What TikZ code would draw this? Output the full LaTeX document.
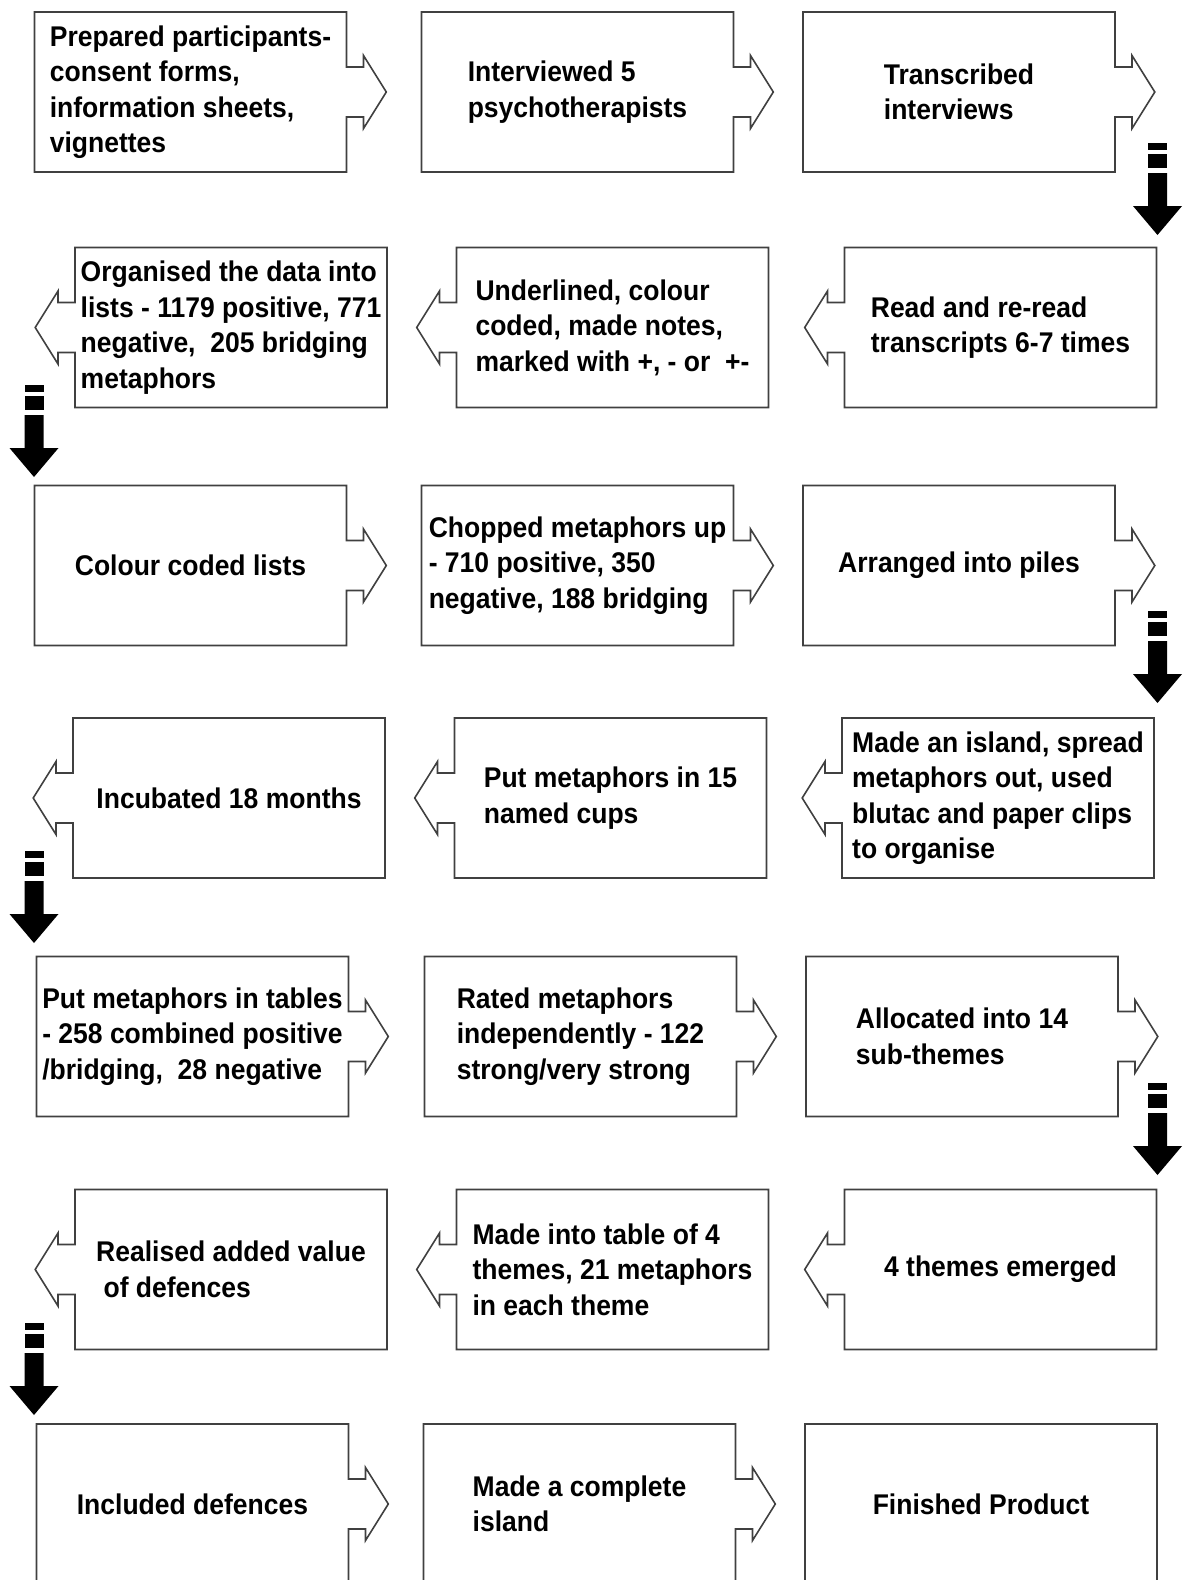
\documentclass[tikz,border=0pt]{standalone}
\usepackage{fontspec}
\setmainfont{Liberation Sans}[FakeStretch=0.93]
\usetikzlibrary{shapes.arrows}

\begin{document}
\begin{tikzpicture}[x=1pt, y=-1pt,
  font=\fontsize{28.5}{35.5}\selectfont\bfseries,
  box/.style={shape=arrow box, draw=black!75, line width=1.6pt, align=left, inner sep=0pt,
    minimum width=312pt, minimum height=160pt,
    arrow box shaft width=50pt, arrow box head extend=11.5pt,
    arrow box head indent=0pt, arrow box tip angle=116},
  rbox/.style={box, arrow box arrows={east:39pt}},
  lbox/.style={box, arrow box arrows={west:39pt}},
  endbox/.style={draw=black!75, line width=1.6pt, align=left, inner sep=0pt,
    minimum width=352pt, minimum height=160pt},
  downarr/.pic={
    \fill (-9.5,0) rectangle (9.5,7);
    \fill (-9.5,11) rectangle (9.5,25);
    \fill (-9.5,30) -- (9.5,30) -- (9.5,63) -- (24.5,63) -- (0,92)
      -- (-24.5,63) -- (-9.5,63) -- cycle;
  }
]
\path[use as bounding box] (0,0) rectangle (1188,1580);
\clip (0,0) rectangle (1188,1580);

% row 1
\node[rbox] (prep) at (190.5,92) {Prepared participants-\\consent forms,\\information sheets,\\vignettes};
\node[rbox] (intv) at (577.5,92) {Interviewed 5\\psychotherapists};
\node[rbox] (trans) at (959,92) {Transcribed\\interviews};
\pic (drop1) at (1157.5,143) {downarr};

% row 2
\node[lbox] (read) at (1000.5,327.5) {Read and re-read\\transcripts 6-7 times};
\node[lbox] (underl) at (612.5,327.5) {Underlined, colour\\coded, made notes,\\marked with +, - or~ +-};
\node[lbox] (organ) at (231,327.5) {Organised the data into\\lists - 1179 positive, 771\\negative,~ 205 bridging\\metaphors};
\pic (drop2) at (34,385) {downarr};

% row 3
\node[rbox] (colour) at (190.5,565.5) {Colour coded lists};
\node[rbox] (chop) at (577.5,565.5) {Chopped metaphors up\\- 710 positive, 350\\negative, 188 bridging};
\node[rbox] (piles) at (959,565.5) {Arranged into piles};
\pic (drop3) at (1157.5,611) {downarr};

% row 4
\node[lbox] (island) at (998,798) {Made an island, spread\\metaphors out, used\\blutac and paper clips\\to organise};
\node[lbox] (cups) at (610.5,798) {Put metaphors in 15\\named cups};
\node[lbox] (incub) at (229,798) {Incubated 18 months};
\pic (drop4) at (34,851) {downarr};

% row 5
\node[rbox] (tables) at (192.5,1036.5) {Put metaphors in tables\\- 258 combined positive\\/bridging,~ 28 negative};
\node[rbox] (rated) at (580.5,1036.5) {Rated metaphors\\independently - 122\\strong/very strong};
\node[rbox] (alloc) at (962,1036.5) {Allocated into 14\\sub-themes};
\pic (drop5) at (1157.5,1083) {downarr};

% row 6
\node[lbox] (emerged) at (1000.5,1269.5) {4 themes emerged};
\node[lbox] (table4) at (612.5,1269.5) {Made into table of 4\\themes, 21 metaphors\\in each theme};
\node[lbox] (realised) at (231,1269.5) {Realised added value\\\ of defences};
\pic (drop6) at (34,1323) {downarr};

% row 7
\node[rbox] (incl) at (192.5,1504) {Included defences};
\node[rbox] (complete) at (579.5,1504) {Made a complete\\island};
\node[endbox] (finished) at (981,1504) {Finished Product};
\end{tikzpicture}
\end{document}
